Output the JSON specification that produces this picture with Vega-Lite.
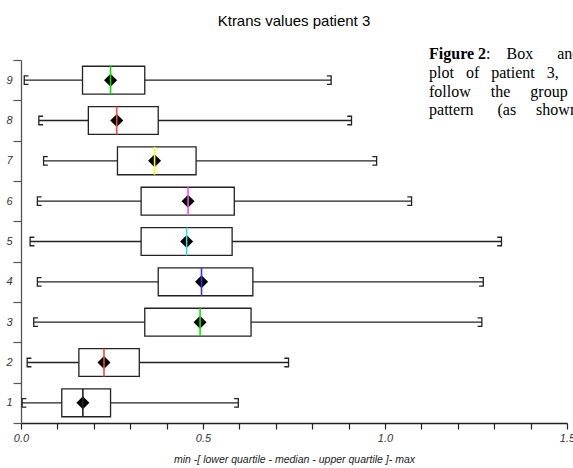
{
  "$schema": "https://vega.github.io/schema/vega-lite/v6.json",
  "autosize": {"type": "none"},
  "padding": {"left": 21, "top": 60, "right": 6, "bottom": 45},
  "width": 546,
  "height": 363,
  "background": "white",
  "title": {
    "text": "Ktrans values patient 3",
    "font": "Liberation Sans",
    "fontSize": 15,
    "fontWeight": "normal",
    "color": "#000000",
    "frame": "group",
    "anchor": "middle",
    "offset": 17
  },
  "config": {
    "view": {"stroke": null},
    "font": "Liberation Sans"
  },
  "data": {
    "values": [
      {"row": 9, "min": 0.009, "q1": 0.169, "median": 0.246, "q3": 0.340, "max": 0.852},
      {"row": 8, "min": 0.049, "q1": 0.185, "median": 0.263, "q3": 0.377, "max": 0.908},
      {"row": 7, "min": 0.062, "q1": 0.265, "median": 0.367, "q3": 0.481, "max": 0.977},
      {"row": 6, "min": 0.045, "q1": 0.330, "median": 0.459, "q3": 0.586, "max": 1.073},
      {"row": 5, "min": 0.025, "q1": 0.330, "median": 0.455, "q3": 0.580, "max": 1.320},
      {"row": 4, "min": 0.045, "q1": 0.377, "median": 0.496, "q3": 0.637, "max": 1.270},
      {"row": 3, "min": 0.035, "q1": 0.340, "median": 0.492, "q3": 0.632, "max": 1.266},
      {"row": 2, "min": 0.017, "q1": 0.159, "median": 0.228, "q3": 0.325, "max": 0.735},
      {"row": 1, "min": 0.003, "q1": 0.112, "median": 0.170, "q3": 0.246, "max": 0.597}
    ]
  },
  "encoding": {
    "y": {
      "field": "row",
      "type": "ordinal",
      "sort": "descending",
      "scale": {"paddingInner": 0, "paddingOuter": 0},
      "axis": {
        "title": null,
        "labelFont": "Liberation Sans",
        "labelFontStyle": "italic",
        "labelFontSize": 11,
        "labelColor": "#333333",
        "labelPadding": 1,
        "tickBand": "extent",
        "tickSize": 8,
        "tickColor": "#555555",
        "domainColor": "#555555",
        "domainWidth": 1.3,
        "tickWidth": 1.2,
        "grid": false
      }
    }
  },
  "layer": [
    {
      "mark": {"type": "rule", "color": "#222222", "strokeWidth": 1.3},
      "encoding": {
        "x": {
          "field": "min",
          "type": "quantitative",
          "scale": {"domain": [0, 1.5], "nice": false, "zero": false},
          "axis": {
            "title": "min -[ lower quartile - median - upper quartile ]- max",
            "titleFont": "Liberation Sans",
            "titleFontStyle": "italic",
            "titleFontWeight": "normal",
            "titleFontSize": 10.5,
            "titleColor": "#222222",
            "titlePadding": 11,
            "values": [0, 0.1, 0.2, 0.3, 0.4, 0.5, 0.6, 0.7, 0.8, 0.9, 1.0, 1.1, 1.2, 1.3, 1.4, 1.5],
            "tickCount": 20,
            "labelExpr": "abs(datum.value * 2 - round(datum.value * 2)) < 0.001 ? format(datum.value, '.1f') : ''",
            "labelFont": "Liberation Sans",
            "labelFontStyle": "italic",
            "labelFontSize": 11,
            "labelColor": "#333333",
            "labelOverlap": false,
            "labelFlush": false,
            "labelPadding": 3,
            "tickSize": 6,
            "tickColor": "#222222",
            "tickWidth": 1.2,
            "domainColor": "#222222",
            "domainWidth": 1.3,
            "grid": false
          }
        },
        "x2": {"field": "max"}
      }
    },
    {
      "mark": {"type": "bar", "fill": "white", "stroke": "#222222", "strokeWidth": 1.3, "height": {"band": 0.69}},
      "encoding": {
        "x": {"field": "q1", "type": "quantitative"},
        "x2": {"field": "q3"}
      }
    },
    {
      "mark": {"type": "point", "shape": "M 1 -1 L 0 -1 L 0 1 L 1 1", "size": 72, "filled": false, "stroke": "#222222", "strokeWidth": 1.3, "opacity": 1},
      "encoding": {
        "x": {"field": "min", "type": "quantitative"}
      }
    },
    {
      "mark": {"type": "point", "shape": "M -1 -1 L 0 -1 L 0 1 L -1 1", "size": 72, "filled": false, "stroke": "#222222", "strokeWidth": 1.3, "opacity": 1},
      "encoding": {
        "x": {"field": "max", "type": "quantitative"}
      }
    },
    {
      "mark": {"type": "point", "shape": "diamond", "size": 169, "filled": true, "color": "#000000", "opacity": 1},
      "encoding": {
        "x": {"field": "median", "type": "quantitative"}
      }
    },
    {
      "mark": {"type": "tick", "orient": "vertical", "size": 28, "thickness": 1.6, "opacity": 1},
      "encoding": {
        "x": {"field": "median", "type": "quantitative"},
        "color": {
          "field": "row",
          "type": "ordinal",
          "scale": {
            "domain": [1, 2, 3, 4, 5, 6, 7, 8, 9],
            "range": ["#222222", "#ff4444", "#00ee00", "#3333ff", "#33dddd", "#ff44ff", "#ffff00", "#ff4444", "#00e000"]
          },
          "legend": null
        }
      }
    },
    {
      "data": {"values": [{"t": "Figure 2"}]},
      "mark": {"type": "text", "font": "Liberation Serif", "fontSize": 16, "fontWeight": "bold", "align": "left", "baseline": "alphabetic", "dy": -21, "color": "#000000"},
      "encoding": {
        "x": {"datum": 1.121, "type": "quantitative"},
        "y": {"datum": 9, "type": "ordinal"},
        "text": {"field": "t"}
      }
    },
    {
      "data": {"values": [{"t": ": \u00a0\u00a0\u00a0Box \u00a0\u00a0\u00a0\u00a0\u00a0and"}]},
      "mark": {"type": "text", "font": "Liberation Serif", "fontSize": 16, "align": "left", "baseline": "alphabetic", "dx": 57, "dy": -21, "color": "#000000"},
      "encoding": {
        "x": {"datum": 1.121, "type": "quantitative"},
        "y": {"datum": 9, "type": "ordinal"},
        "text": {"field": "t"}
      }
    },
    {
      "data": {"values": [{"t": ["plot \u00a0\u00a0of \u00a0\u00a0patient \u00a0\u00a03,", "follow \u00a0\u00a0\u00a0\u00a0the \u00a0\u00a0\u00a0\u00a0group", "pattern \u00a0\u00a0\u00a0\u00a0\u00a0(as \u00a0\u00a0\u00a0\u00a0shown)"]}]},
      "mark": {"type": "text", "font": "Liberation Serif", "fontSize": 16, "align": "left", "baseline": "alphabetic", "lineHeight": 18.7, "dy": -2.3, "color": "#000000"},
      "encoding": {
        "x": {"datum": 1.121, "type": "quantitative"},
        "y": {"datum": 9, "type": "ordinal"},
        "text": {"field": "t"}
      }
    }
  ]
}
